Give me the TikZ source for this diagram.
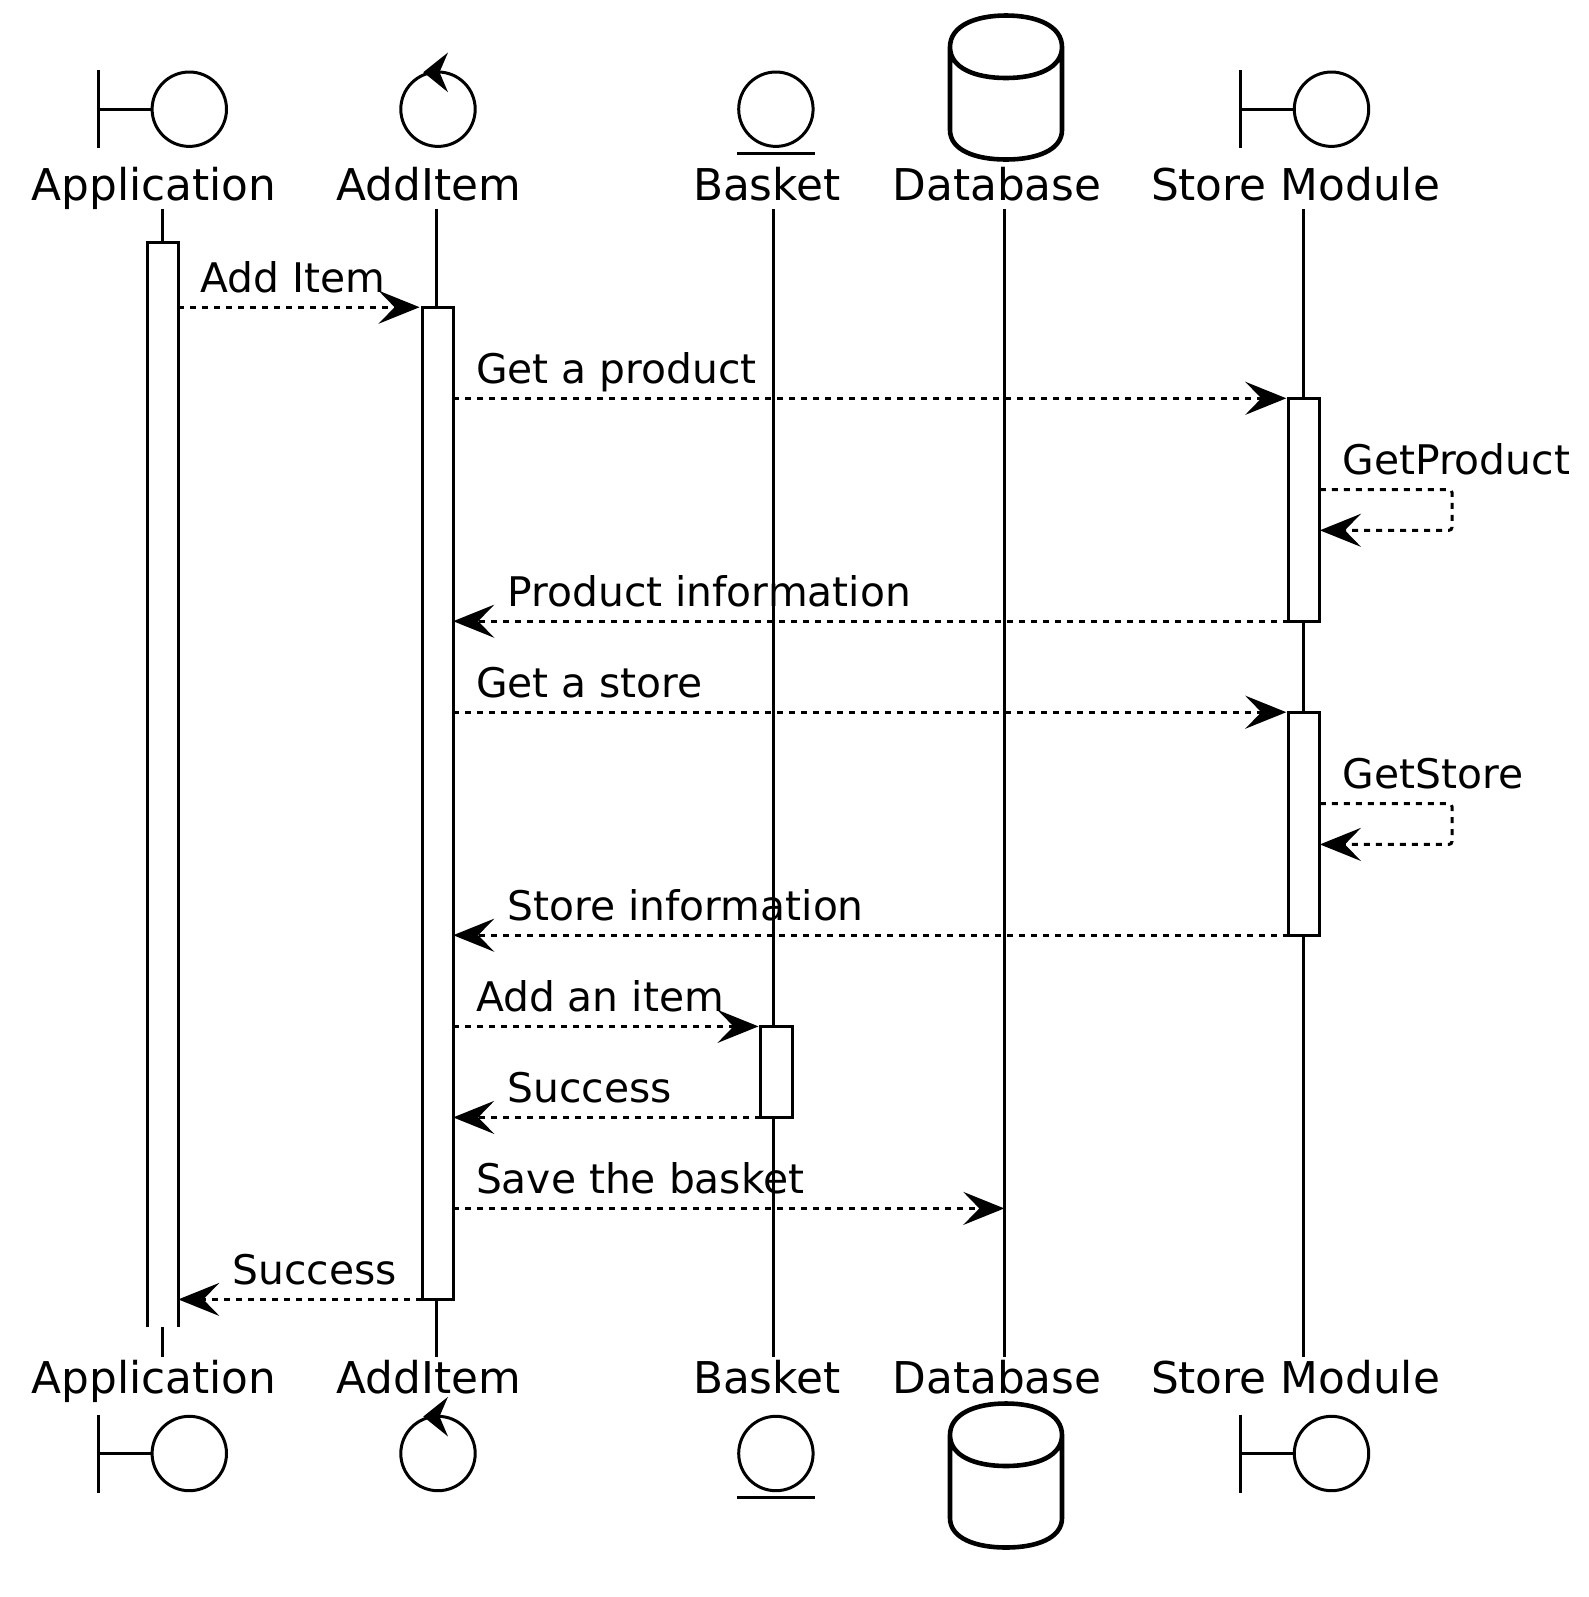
\documentclass[tikz,border=0pt]{standalone}
\usepackage{fontspec}
\setmainfont{DejaVu Sans}
\usetikzlibrary{arrows.meta}
\tikzset{
	pics/boundary sym/.style={code={
		\draw (-91.2,-39) -- (-91.2,39);
		\draw (-91.2,0) -- (-37.2,0);
		\draw (0,0) circle [radius=37.2];
	}},
	pics/control sym/.style={code={
		\draw (0,0) circle [radius=37.2];
		\fill (-14.7,-37) -- (10,-56.7) -- (1.5,-37) -- (10,-17) -- cycle;
	}},
	pics/entity sym/.style={code={
		\draw (0,0) circle [radius=37.2];
		\draw (-39,44.4) -- (39,44.4);
	}},
	pics/database sym/.style={code={
		\draw [line width=2.3pt]
			(-56,0) .. controls (-56,-21) and (-31,-31.5) .. (0,-31.5)
			.. controls (31,-31.5) and (56,-21) .. (56,0)
			.. controls (56,21) and (31,31) .. (0,31)
			.. controls (-31,31) and (-56,21) .. (-56,0)
			-- (-56,83) .. controls (-56,103) and (-31,112.5) .. (0,112.5)
			.. controls (31,112.5) and (56,103) .. (56,83) -- (56,0);
	}}
}
\begin{document}
\begin{tikzpicture}[
		x=0.5pt, y=-0.5pt,
		line width=1.5pt,
		lbl/.style={anchor=base west, inner sep=0pt, font=\fontsize{20.4pt}{25pt}\selectfont},
		actor/.style={anchor=base west, inner sep=0pt, font=\fontsize{21.9pt}{26pt}\selectfont},
		activation/.style={rectangle, draw, fill=white, minimum width=15.6pt, inner sep=0pt, outer sep=0pt},
		msg/.style={dash pattern=on 3pt off 3pt, -{Stealth[length=20.5pt, width=16.5pt, inset=8pt]}},
		call/.style={msg, shorten >=1.2pt}
	]
  \useasboundingbox (0,0) rectangle (1589,1597);
  % actors, top row
  \pic at (189.3,109.2) {boundary sym};
  \pic at (438,109.2) {control sym};
  \pic at (775.9,109.2) {entity sym};
  \pic at (1006,47) {database sym};
  \pic at (1331.5,109.2) {boundary sym};
  \node (app_top) [actor] at (30,200) {Application};
  \node (add_top) [actor] at (335,200) {AddItem};
  \node (bsk_top) [actor] at (691.5,200) {Basket};
  \node (db_top) [actor] at (891,200) {Database};
  \node (sto_top) [actor] at (1149.5,200) {Store Module};
  % actors, bottom row
  \pic at (189.3,1453.5) {boundary sym};
  \pic at (438,1453.5) {control sym};
  \pic at (775.9,1453.5) {entity sym};
  \pic at (1006,1435) {database sym};
  \pic at (1331.5,1453.5) {boundary sym};
  \node (app_bot) [actor] at (30,1393) {Application};
  \node (add_bot) [actor] at (335,1393) {AddItem};
  \node (bsk_bot) [actor] at (691.5,1393) {Basket};
  \node (db_bot) [actor] at (891,1393) {Database};
  \node (sto_bot) [actor] at (1149.5,1393) {Store Module};
  % lifelines
  \coordinate (life_app_t) at (162.3,209);
  \coordinate (life_app_b) at (162.3,1356.5);
  \coordinate (life_add_t) at (436.4,209);
  \coordinate (life_add_b) at (436.4,1356.5);
  \coordinate (life_bsk_t) at (773.4,209);
  \coordinate (life_bsk_b) at (773.4,1356.5);
  \coordinate (life_db_t) at (1004.3,209);
  \coordinate (life_db_b) at (1004.3,1356.5);
  \coordinate (life_sto_t) at (1303.4,209);
  \coordinate (life_sto_b) at (1303.4,1356.5);
  \draw (life_app_t) -- (life_app_b);
  \draw (life_add_t) -- (life_add_b);
  \draw (life_bsk_t) -- (life_bsk_b);
  \draw (life_db_t) -- (life_db_b);
  \draw (life_sto_t) -- (life_sto_b);
  % activations
  \node (act_app) [activation, draw=none, minimum height=542.3pt] at (162.7,784.7) {};
  \draw (act_app.south west) -- (act_app.north west) -- (act_app.north east) -- (act_app.south east);
  \node (act_add) [activation, minimum height=496pt] at (437.6,803.4) {};
  \node (act_sto1) [activation, minimum height=111.5pt] at (1304.3,509.7) {};
  \node (act_sto2) [activation, minimum height=111.5pt] at (1304.3,823.7) {};
  \node (act_bsk) [activation, minimum height=45.5pt] at (776.5,1071.8) {};
  % messages
  \coordinate (y_add) at (0,307.2);
  \coordinate (y_get) at (0,398.3);
  \coordinate (y_gp1) at (0,489.5);
  \coordinate (y_gp2) at (0,530.3);
  \coordinate (y_pinf) at (0,621.2);
  \coordinate (y_gst) at (0,712.2);
  \coordinate (y_gs1) at (0,803.7);
  \coordinate (y_gs2) at (0,844.4);
  \coordinate (y_sinf) at (0,935.2);
  \coordinate (y_item) at (0,1026.4);
  \coordinate (y_ok1) at (0,1117.4);
  \coordinate (y_save) at (0,1208.4);
  \coordinate (y_ok2) at (0,1299.4);
  \coordinate (loop_x) at (1452,0);
  \draw [call] (act_app.east |- y_add) -- (act_add.west |- y_add);
  \draw [call] (act_add.east |- y_get) -- (act_sto1.west |- y_get);
  \draw [msg, rounded corners=1.5pt] (act_sto1.east |- y_gp1) -- (loop_x |- y_gp1) -- (loop_x |- y_gp2) -- (act_sto1.east |- y_gp2);
  \draw [msg] (act_sto1.west |- y_pinf) -- (act_add.east |- y_pinf);
  \draw [call] (act_add.east |- y_gst) -- (act_sto2.west |- y_gst);
  \draw [msg, rounded corners=1.5pt] (act_sto2.east |- y_gs1) -- (loop_x |- y_gs1) -- (loop_x |- y_gs2) -- (act_sto2.east |- y_gs2);
  \draw [msg] (act_sto2.west |- y_sinf) -- (act_add.east |- y_sinf);
  \draw [call] (act_add.east |- y_item) -- (act_bsk.west |- y_item);
  \draw [msg] (act_bsk.west |- y_ok1) -- (act_add.east |- y_ok1);
  \draw [msg] (act_add.east |- y_save) -- (life_db_t |- y_save);
  \draw [msg] (act_add.west |- y_ok2) -- (act_app.east |- y_ok2);
  % message labels
  \node (m_add) [lbl] at (199,292) {Add Item};
  \node (m_get) [lbl] at (474.5,383.5) {Get a product};
  \node (m_gp) [lbl] at (1341,474.5) {GetProduct};
  \node (m_pinf) [lbl] at (506,606.5) {Product information};
  \node (m_gst) [lbl] at (474.5,697) {Get a store};
  \node (m_gs) [lbl] at (1341,788.5) {GetStore};
  \node (m_sinf) [lbl] at (506,920) {Store information};
  \node (m_item) [lbl] at (474.5,1011) {Add an item};
  \node (m_ok1) [lbl] at (506,1102) {Success};
  \node (m_save) [lbl] at (474.5,1193) {Save the basket};
  \node (m_ok2) [lbl] at (231,1284) {Success};
\end{tikzpicture}
\end{document}
